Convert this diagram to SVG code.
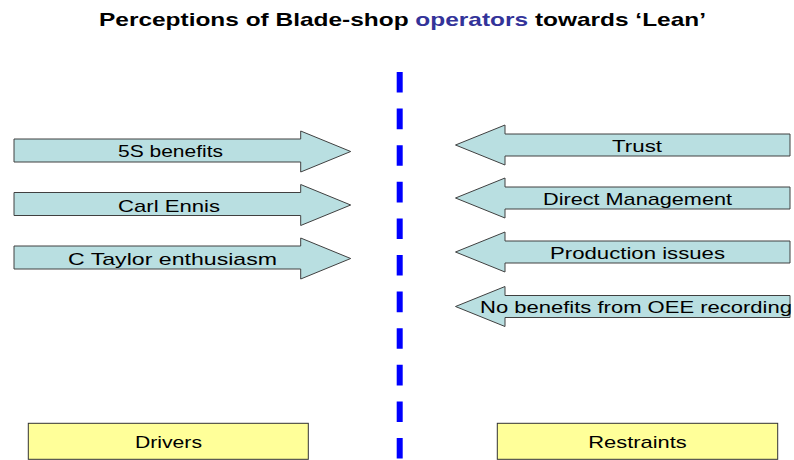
<svg xmlns="http://www.w3.org/2000/svg" width="794" height="460" viewBox="0 0 794 460">
  <defs>
    <style>
      .arrow { fill: #b9dfe1; stroke: #404040; stroke-width: 1; stroke-linejoin: miter; }
      .box { fill: #ffff99; stroke: #333333; stroke-width: 1; }
      .label { font-family: "Liberation Sans", Arial, sans-serif; font-size: 17px; fill: #000000; }
      .title { font-family: "Liberation Sans", Arial, sans-serif; font-size: 19px; font-weight: bold; fill: #000000; }
      .accent { fill: #333399; }
      .divider { stroke: #0000ff; stroke-width: 6; stroke-dasharray: 20.6 16; fill: none; }
    </style>
  </defs>

  <rect width="794" height="460" fill="#ffffff"/>

  <!-- Heading -->
  <g id="title">
    <text class="title" x="99" y="26" textLength="607" lengthAdjust="spacingAndGlyphs">Perceptions of Blade-shop <tspan class="accent">operators</tspan> towards ‘Lean’</text>
  </g>

  <!-- Centre divider -->
  <g id="divider">
    <line class="divider" x1="399.7" y1="72" x2="399.7" y2="460"/>
  </g>

  <!-- Drivers: right-pointing arrows -->
  <g id="driver-5s">
    <polygon class="arrow" points="14,139 300.7,139 300.7,131 350.7,151.5 300.7,172 300.7,162 14,162"/>
    <text class="label" x="118" y="157" textLength="105" lengthAdjust="spacingAndGlyphs">5S benefits</text>
  </g>
  <g id="driver-carl-ennis">
    <polygon class="arrow" points="14,192.5 300.7,192.5 300.7,184.5 350.7,205 300.7,225.5 300.7,215.5 14,215.5"/>
    <text class="label" x="118" y="211.5" textLength="102" lengthAdjust="spacingAndGlyphs">Carl Ennis</text>
  </g>
  <g id="driver-c-taylor">
    <polygon class="arrow" points="14,246 300.7,246 300.7,238 350.7,258.5 300.7,279 300.7,269 14,269"/>
    <text class="label" x="68" y="265" textLength="209" lengthAdjust="spacingAndGlyphs">C Taylor enthusiasm</text>
  </g>

  <!-- Restraints: left-pointing arrows -->
  <g id="restraint-trust">
    <polygon class="arrow" points="790,134 505,134 505,125 455.5,145 505,165 505,156 790,156"/>
    <text class="label" x="612" y="152" textLength="50" lengthAdjust="spacingAndGlyphs">Trust</text>
  </g>
  <g id="restraint-direct-management">
    <polygon class="arrow" points="790,187 505,187 505,178 455.5,198 505,218 505,209 790,209"/>
    <text class="label" x="543" y="205" textLength="189" lengthAdjust="spacingAndGlyphs">Direct Management</text>
  </g>
  <g id="restraint-production">
    <polygon class="arrow" points="790,241 505,241 505,232 455.5,252 505,272 505,263 790,263"/>
    <text class="label" x="550" y="259" textLength="175" lengthAdjust="spacingAndGlyphs">Production issues</text>
  </g>
  <g id="restraint-oee">
    <polygon class="arrow" points="790,295.5 505,295.5 505,286.5 455.5,306.5 505,326.5 505,317.5 790,317.5"/>
    <text class="label" x="480" y="313" textLength="312" lengthAdjust="spacingAndGlyphs">No benefits from OEE recording</text>
  </g>

  <!-- Column captions -->
  <g id="drivers">
    <rect class="box" x="28.3" y="423.3" width="280" height="36"/>
    <text class="label" x="135" y="448.3" textLength="67" lengthAdjust="spacingAndGlyphs">Drivers</text>
  </g>
  <g id="restraints">
    <rect class="box" x="497.3" y="423.3" width="280.4" height="36"/>
    <text class="label" x="588.3" y="448.3" textLength="98.4" lengthAdjust="spacingAndGlyphs">Restraints</text>
  </g>
</svg>
